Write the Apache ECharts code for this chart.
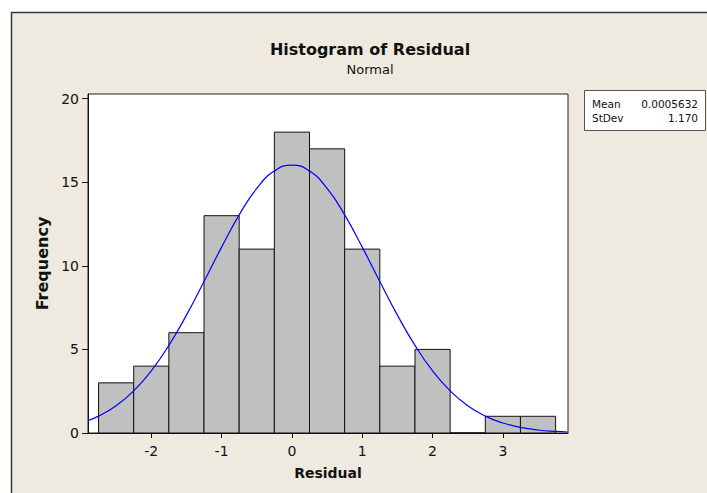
<!DOCTYPE html>
<html>
<head>
<meta charset="utf-8">
<script src="https://cdn.jsdelivr.net/npm/echarts@6/dist/echarts.min.js"></script>
<style>
html,body{margin:0;padding:0;background:#ffffff;}
#chart{width:707px;height:493px;}
</style>
</head>
<body>
<div id="chart"></div>
<script>
// Histogram bins (left edge, right edge) and counts
var binStart = [-2.75, -2.25, -1.75, -1.25, -0.75, -0.25, 0.25, 0.75, 1.25, 1.75, 2.25, 2.75, 3.25];
var binEnd   = [-2.25, -1.75, -1.25, -0.75, -0.25, 0.25, 0.75, 1.25, 1.75, 2.25, 2.75, 3.25, 3.75];
var counts   = [3, 4, 6, 13, 11, 18, 17, 11, 4, 5, 0, 1, 1];

// Fitted normal curve
var curveX = [-2.9, -2.75, -2.5, -2.25, -2, -1.75, -1.5, -1.25, -1, -0.75, -0.5, -0.25, 0, 0.25, 0.5, 0.75, 1, 1.25, 1.5, 1.75, 2, 2.25, 2.5, 2.75, 3, 3.25, 3.5, 3.75, 3.92];
var curveY = [0.74, 1.01, 1.63, 2.52, 3.72, 5.24, 7.05, 9.06, 11.12, 13.05, 14.63, 15.67, 16.03, 15.67, 14.63, 13.05, 11.12, 9.06, 7.05, 5.24, 3.72, 2.52, 1.63, 1.01, 0.60, 0.34, 0.18, 0.094, 0.059];

var xTicks = [-2, -1, 0, 1, 2, 3];
var yTicks = [0, 5, 10, 15, 20];

var statLabels = ['Mean', 'StDev'];
var statValues = ['0.0005632', '1.170'];

var FONT = 'DejaVu Sans';

var barData = binStart.map(function (s, i) { return [s, binEnd[i], counts[i]]; });
var lineData = curveX.map(function (x, i) { return [x, curveY[i]]; });

var chart = echarts.init(document.getElementById('chart'), null, {renderer: 'svg'});

var graphics = [
  {type: 'rect', z: -100, silent: true,
   shape: {x: 11.5, y: 12.5, width: 760, height: 560},
   style: {fill: '#EEEAE0', stroke: '#3a3a3a', lineWidth: 1.5}},
  {type: 'rect', z: 10,
   shape: {x: 584.5, y: 90.5, width: 121, height: 40},
   style: {fill: '#ffffff', stroke: '#555555', lineWidth: 1}}
];
statLabels.forEach(function (t, i) {
  graphics.push({type: 'text', z: 11, x: 592, y: 104 + i * 14,
    style: {text: t, font: '10.5px "' + FONT + '"', fill: '#111', textVerticalAlign: 'middle', textAlign: 'left'}});
  graphics.push({type: 'text', z: 11, x: 698, y: 104 + i * 14,
    style: {text: statValues[i], font: '10.5px "' + FONT + '"', fill: '#111', textVerticalAlign: 'middle', textAlign: 'right'}});
});

chart.setOption({
  backgroundColor: '#ffffff',
  animation: false,
  title: {
    text: 'Histogram of Residual',
    subtext: 'Normal',
    left: 365, top: 36, textAlign: 'center', itemGap: 6,
    textStyle: {fontFamily: FONT, fontSize: 16, fontWeight: 'bold', color: '#111'},
    subtextStyle: {fontFamily: FONT, fontSize: 13, color: '#111'}
  },
  grid: {
    left: 88, right: 139, top: 94, bottom: 60,
    show: true, backgroundColor: '#ffffff', borderColor: '#222222', borderWidth: 1
  },
  xAxis: {
    type: 'value', min: -2.9, max: 3.926,
    name: 'Residual', nameLocation: 'middle', nameGap: 33,
    nameTextStyle: {fontFamily: FONT, fontSize: 14, fontWeight: 'bold', color: '#111'},
    axisLine: {show: true, onZero: false, lineStyle: {color: '#111', width: 1}},
    axisTick: {show: true, inside: false, length: 5, customValues: xTicks, lineStyle: {color: '#111'}},
    axisLabel: {customValues: xTicks, margin: 11, fontFamily: FONT, fontSize: 14, color: '#111'},
    splitLine: {show: false}
  },
  yAxis: {
    type: 'value', min: 0, max: 20.28,
    name: 'Frequency', nameLocation: 'middle', nameGap: 37,
    nameTextStyle: {fontFamily: FONT, fontSize: 16, fontWeight: 'bold', color: '#111'},
    axisLine: {show: true, onZero: false, lineStyle: {color: '#111', width: 1}},
    axisTick: {show: true, inside: false, length: 6, customValues: yTicks, lineStyle: {color: '#111'}},
    axisLabel: {customValues: yTicks, margin: 9, fontFamily: FONT, fontSize: 14, color: '#111'},
    splitLine: {show: false}
  },
  graphic: graphics,
  series: [
    {
      type: 'custom',
      data: barData,
      encode: {x: [0, 1], y: 2},
      renderItem: function (params, api) {
        var p0 = api.coord([api.value(0), api.value(2)]);
        var p1 = api.coord([api.value(1), 0]);
        return {
          type: 'rect',
          shape: {x: p0[0], y: p0[1], width: p1[0] - p0[0], height: p1[1] - p0[1]},
          style: {fill: '#C0C0C0', stroke: '#111111', lineWidth: 1}
        };
      },
      z: 2
    },
    {
      type: 'line',
      data: lineData,
      smooth: true,
      showSymbol: false,
      lineStyle: {color: '#0000FF', width: 1.2},
      z: 3
    }
  ]
});
</script>
</body>
</html>
